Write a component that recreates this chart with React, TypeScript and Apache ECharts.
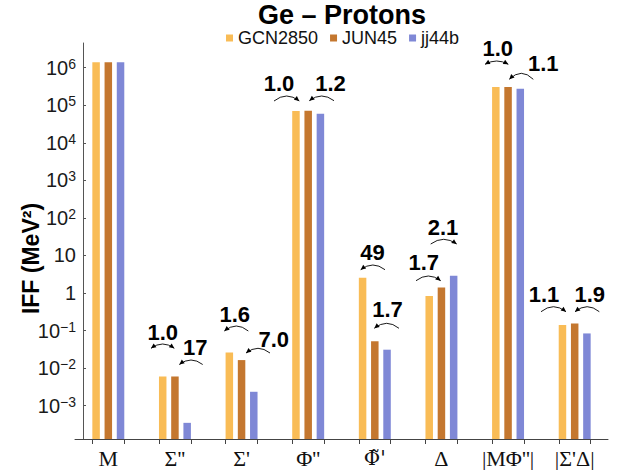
import { useEffect, useRef } from 'react';
import * as echarts from 'echarts';

// ---- data ----
const TITLE = 'Ge – Protons';
const CATEGORIES = ['M', "Σ''", "Σ'", "Φ''", "Φ̃'", 'Δ', "|MΦ''|", "|Σ'Δ|"];
const SERIES_NAMES = ['GCN2850', 'JUN45', 'jj44b'];
const GCN2850 = [1.4e6, 0.006, 0.026, 7.0e4, 2.55, 0.83, 3.05e5, 0.14];
const JUN45 = [1.4e6, 0.006, 0.0164, 7.1e4, 0.052, 1.41, 3.05e5, 0.155];
const JJ44B = [1.4e6, 3.5e-4, 0.00235, 5.9e4, 0.031, 2.9, 2.75e5, 0.084];
const Y_TICKS = [1e-3, 1e-2, 1e-1, 1, 10, 100, 1e3, 1e4, 1e5, 1e6];
const Y_MIN = 1.3e-4;
const Y_MAX = 4.53e6;
const RATIO_TEXTS = ['1.0', '17', '1.6', '7.0', '1.0', '1.2', '49', '1.7', '1.7', '2.1', '1.0', '1.1', '1.1', '1.9'];

// ---- layout / style ----
const COLORS = ['#F9BC56', '#C4772F', '#7F88D6'];
const FONT = '"Liberation Sans", Arial, sans-serif';
const SERIF = '"Liberation Serif", "Times New Roman", serif';
// annotation layout: text centre, arc ends, arc peak, arrow head side
const ANN_LAYOUT: { tx: number; ty: number; x1: number; x2: number; y: number; peak: number; head: string }[] = [
  { tx: 162.8, ty: 332, x1: 151, x2: 174.3, y: 348.3, peak: 344, head: 'both' },
  { tx: 195.3, ty: 347.5, x1: 179.3, x2: 202.7, y: 364.5, peak: 360, head: 'left' },
  { tx: 234.7, ty: 314, x1: 224.3, x2: 248.3, y: 331, peak: 326, head: 'left' },
  { tx: 273.7, ty: 339, x1: 246, x2: 270, y: 353, peak: 348.3, head: 'left' },
  { tx: 279, ty: 83.8, x1: 274, x2: 299.3, y: 101, peak: 96, head: 'right' },
  { tx: 330.5, ty: 83.8, x1: 309.3, x2: 334, y: 100.7, peak: 96, head: 'left' },
  { tx: 372.5, ty: 252, x1: 360.7, x2: 385, y: 269.7, peak: 265, head: 'left' },
  { tx: 387.5, ty: 309, x1: 374.3, x2: 399, y: 328.3, peak: 323.3, head: 'left' },
  { tx: 423.7, ty: 262.5, x1: 416, x2: 440.7, y: 280.7, peak: 276, head: 'right' },
  { tx: 443, ty: 227, x1: 430.7, x2: 456.7, y: 244, peak: 239.3, head: 'right' },
  { tx: 497.7, ty: 48, x1: 485, x2: 508.3, y: 64.3, peak: 61, head: 'both' },
  { tx: 543.3, ty: 63.3, x1: 509.3, x2: 533.3, y: 79.3, peak: 73.3, head: 'left' },
  { tx: 544, ty: 294, x1: 541, x2: 566, y: 311.7, peak: 306.7, head: 'right' },
  { tx: 589.7, ty: 294, x1: 575, x2: 599.3, y: 311.7, peak: 306.7, head: 'left' },
];
const TICK_HALF = 0.238;

function arrowHead(tipX: number, tipY: number, fromX: number, fromY: number) {
  const dx = tipX - fromX;
  const dy = tipY - fromY;
  const len = Math.sqrt(dx * dx + dy * dy) || 1;
  const ux = dx / len;
  const uy = dy / len;
  const L = 5;
  const W = 2.4;
  const bx = tipX - ux * L;
  const by = tipY - uy * L;
  return {
    type: 'polygon',
    shape: { points: [[tipX, tipY], [bx - uy * W, by + ux * W], [bx + uy * W, by - ux * W]] },
    style: { fill: '#000' },
    silent: true,
  };
}

function buildGraphics() {
  const els: any[] = [
    {
      type: 'text',
      x: 342,
      y: 14.5,
      style: {
        text: TITLE,
        fontSize: 27,
        lineHeight: 27,
        fontWeight: 'bold',
        fontFamily: FONT,
        fill: '#000',
        align: 'center',
        verticalAlign: 'middle',
      },
      silent: true,
    },
  ];
  ANN_LAYOUT.forEach((a, i) => {
    const cpx = (a.x1 + a.x2) / 2;
    const cpy = 2 * a.peak - a.y;
    els.push({
      type: 'bezierCurve',
      shape: { x1: a.x1, y1: a.y, x2: a.x2, y2: a.y, cpx1: cpx, cpy1: cpy },
      style: { stroke: '#000', lineWidth: 0.9, fill: null },
      silent: true,
    });
    if (a.head === 'left' || a.head === 'both') els.push(arrowHead(a.x1, a.y, cpx, cpy));
    if (a.head === 'right' || a.head === 'both') els.push(arrowHead(a.x2, a.y, cpx, cpy));
    els.push({
      type: 'text',
      x: a.tx,
      y: a.ty,
      style: {
        text: RATIO_TEXTS[i],
        fontSize: 22,
        fontWeight: 'bold',
        fontFamily: FONT,
        fill: '#000',
        align: 'center',
        verticalAlign: 'middle',
      },
      silent: true,
    });
  });
  return els;
}

function yLabel(v: number) {
  const e = Math.round(Math.log10(v));
  if (e === 0) return '1';
  if (e === 1) return '10';
  return '10{sup|' + (e < 0 ? '\u2212' + -e : String(e)) + '}';
}

function xLabel(v: string) {
  return v.indexOf('\u0303') >= 0 ? '{dj|' + v + '}' : v;
}

export default function App() {
  const ref = useRef<HTMLDivElement>(null);
  useEffect(() => {
    if (!ref.current) return;
    const chart = echarts.init(ref.current, null, { renderer: 'svg' });
    const seriesData = [GCN2850, JUN45, JJ44B];
    const xTicks: number[] = [];
    CATEGORIES.forEach((_, i) => {
      xTicks.push(i + 0.5 - TICK_HALF, i + 0.5 + TICK_HALF);
    });
    const option: any = {
      animation: false,
      backgroundColor: '#fff',
      legend: {
        data: SERIES_NAMES,
        left: 221,
        top: 24,
        icon: 'rect',
        itemWidth: 7,
        itemHeight: 7,
        itemGap: 12,
        selectedMode: false,
        textStyle: { fontSize: 18, color: '#111', fontFamily: FONT },
      },
      grid: { left: 75, right: 11, top: 43, bottom: 31, outerBoundsMode: 'none', containLabel: false },
      xAxis: [
        {
          type: 'category',
          data: CATEGORIES,
          position: 'bottom',
          axisLine: { onZero: false, lineStyle: { color: '#444', width: 1 } },
          axisTick: { show: false },
          axisLabel: {
            interval: 0,
            fontFamily: SERIF,
            fontSize: 22,
            lineHeight: 22,
            color: '#111',
            margin: 8,
            formatter: xLabel,
            rich: { dj: { fontFamily: '"DejaVu Serif", serif', fontSize: 20, lineHeight: 22, color: '#111' } },
          },
        },
        {
          type: 'value',
          min: 0,
          max: CATEGORIES.length,
          position: 'bottom',
          axisLine: { show: false, onZero: false },
          splitLine: { show: false },
          axisLabel: { show: false },
          axisTick: { show: true, customValues: xTicks, length: 5, lineStyle: { color: '#444' } },
        },
      ],
      yAxis: {
        type: 'log',
        logBase: 10,
        min: Y_MIN,
        max: Y_MAX,
        startValue: Y_MIN,
        offset: -8,
        name: 'IFF (MeV²)',
        nameLocation: 'middle',
        nameGap: 41,
        nameMoveOverlap: false,
        nameTextStyle: { fontSize: 23, fontWeight: 'bold', color: '#000', fontFamily: FONT, padding: [0, 35, 0, 0] },
        axisLine: { show: true, lineStyle: { color: '#555', width: 1 } },
        axisTick: { show: true, inside: true, length: 3, customValues: Y_TICKS, lineStyle: { color: '#555' } },
        splitLine: { show: false },
        minorTick: { show: false },
        axisLabel: {
          customValues: Y_TICKS,
          formatter: yLabel,
          margin: 7,
          fontSize: 20,
          color: '#1a1a1a',
          fontFamily: FONT,
          rich: {
            sup: { fontSize: 14, verticalAlign: 'top', fontFamily: FONT, color: '#1a1a1a', padding: [0, 0, 8, 0] },
          },
        },
      },
      series: SERIES_NAMES.map((name, k) => ({
        type: 'bar',
        name,
        data: seriesData[k],
        xAxisIndex: 0,
        yAxisIndex: 0,
        barWidth: 7.5,
        barGap: '63%',
        itemStyle: { color: COLORS[k] },
        emphasis: { disabled: true },
      })),
      graphic: buildGraphics(),
    };
    chart.setOption(option);
    return () => chart.dispose();
  }, []);
  return (
    <div
      ref={ref}
      style={{ position: 'fixed', left: 0, top: 0, width: 619, height: 470, background: '#fff' }}
    />
  );
}
